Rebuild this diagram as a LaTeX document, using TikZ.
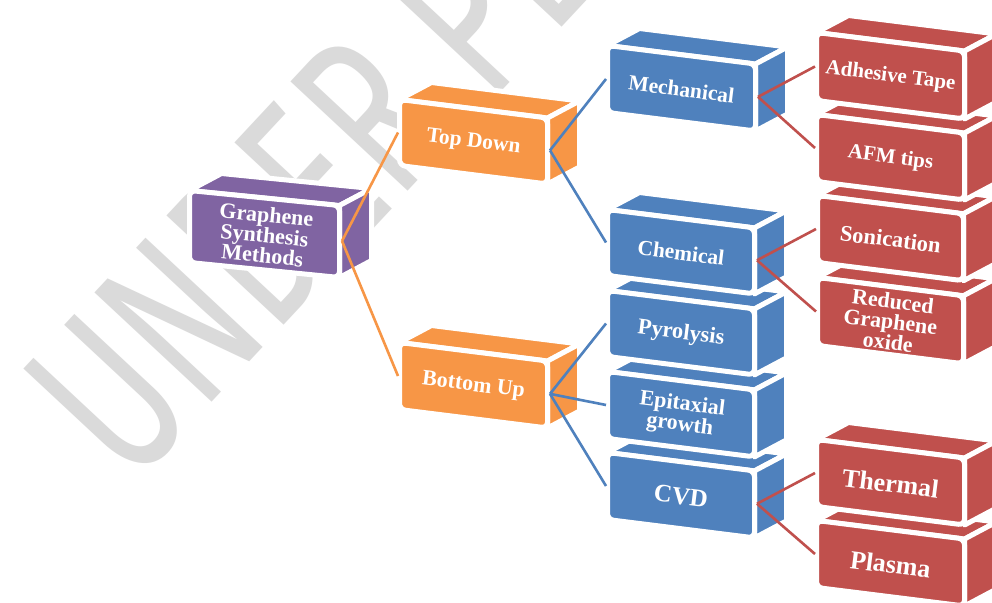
\documentclass[tikz,border=0pt]{standalone}
\usepackage{fontspec}
\setmainfont{Liberation Serif}
\IfFontExistsTF{Fira Sans Book}{\newfontfamily\wmfont{Fira Sans Book}}{\newfontfamily\wmfont{Fira Sans}}
\usetikzlibrary{calc}

\definecolor{cpurple}{HTML}{8064A2}
\definecolor{corange}{HTML}{F79646}
\definecolor{cblue}{HTML}{4F81BD}
\definecolor{cred}{HTML}{C0504D}
\definecolor{wmgray}{HTML}{DADADA}

\tikzset{
  face/.style={draw=white, line width=5pt, line join=round},
  frontface/.style={draw=white, line width=5pt, rounded corners=6pt},
  lbl/.style={text=white, align=center, inner sep=0pt},
  conn/.style={line width=2.6pt},
}

\def\cslant{0.125}
% #1 name, #2 x0, #3 y0, #4 w, #5 h, #6 colour, #7 text, #8 font size
\newcommand\drawcube[8]{%
  \pgfmathsetmacro\cxa{#2-2.5}%
  \pgfmathsetmacro\cya{#3-2.5}%
  \pgfmathsetmacro\cxb{#2+#4+2.5}%
  \pgfmathsetmacro\cyb{#3-2.5+\cslant*(#4+5)}%
  \pgfmathsetmacro\cyc{\cyb+#5+5}%
  \pgfmathsetmacro\cyd{#3+#5+2.5}%
  \pgfmathsetmacro\crot{-atan(\cslant)}%
  \filldraw[face, fill=#6] (\cxa,\cya) -- (\cxb,\cyb) -- ({\cxb+32},{\cyb-17}) -- ({\cxa+32},{\cya-17}) -- cycle;
  \filldraw[face, fill=#6] (\cxb,\cyb) -- ({\cxb+32},{\cyb-17}) -- ({\cxb+32},{\cyc-17}) -- (\cxb,\cyc) -- cycle;
  \filldraw[frontface, fill=#6] (\cxa,\cya) -- (\cxb,\cyb) -- (\cxb,\cyc) -- (\cxa,\cyd) -- cycle;
  \node[lbl, rotate=\crot, font=\bfseries\fontsize{#8}{20.5}\selectfont] (#1) at ({(\cxa+\cxb)/2},{(\cya+\cyc)/2+1}) {#7};
  \coordinate (#1-in) at ({#2-4},{#3+#5/2});
  \coordinate (#1-out) at ({#2+#4+5},{#3+\cslant*#4+#5/2});
}

\begin{document}
\begin{tikzpicture}[x=1pt, y=-1pt]
\useasboundingbox (0,0) rectangle (992,602);
\clip (0,0) rectangle (992,602);
\fill[white] (0,0) rectangle (992,602);

% watermark
\begin{scope}[shift={(131,489)}, rotate=47, yscale=1.5]
  \node[transform shape, anchor=base west, inner sep=0pt, text=wmgray,
        font=\wmfont\fontsize{155}{155}\selectfont] (wm) at (0,0) {UNDER PEER REVIEW};
\end{scope}

% boxes, lower ones first
\drawcube{pl}{819}{523}{143}{62}{cred}{Plasma}{26}
\drawcube{th}{819}{442}{143}{62}{cred}{Thermal}{26}
\drawcube{rgo}{820}{280}{141}{63}{cred}{Reduced\\Graphene\\oxide}{22}
\drawcube{son}{820}{198}{141}{62}{cred}{Sonication}{22.5}
\drawcube{afm}{819}{117}{143}{62}{cred}{AFM tips}{21}
\drawcube{adh}{819}{35}{143}{63}{cred}{Adhesive Tape}{21}

\drawcube{cvd}{610}{455}{142}{62}{cblue}{CVD}{25}
\drawcube{epi}{610}{374}{142}{62}{cblue}{Epitaxial\\growth}{22}
\drawcube{pyro}{610}{293}{142}{61}{cblue}{Pyrolysis}{22.5}
\drawcube{chem}{610}{212}{142}{61}{cblue}{Chemical}{21.5}
\drawcube{mech}{610}{48}{143}{62}{cblue}{Mechanical}{21.5}

\drawcube{bu}{402}{345}{143}{62}{corange}{Bottom Up}{22}
\drawcube{td}{402}{102}{143}{61}{corange}{Top Down}{21.5}

\def\cslant{0.1}
\drawcube{gsm}{192}{193}{145}{67}{cpurple}{Graphene\\Synthesis\\Methods}{22}

% connectors
\draw[conn, corange] (gsm-out) -- (td-in);
\draw[conn, corange] (gsm-out) -- (bu-in);
\draw[conn, cblue] (td-out) -- (mech-in);
\draw[conn, cblue] (td-out) -- (chem-in);
\draw[conn, cblue] (bu-out) -- (pyro-in);
\draw[conn, cblue] (bu-out) -- (epi-in);
\draw[conn, cblue] (bu-out) -- (cvd-in);
\draw[conn, cred] (mech-out) -- (adh-in);
\draw[conn, cred] (mech-out) -- (afm-in);
\draw[conn, cred] (chem-out) -- (son-in);
\draw[conn, cred] (chem-out) -- (rgo-in);
\draw[conn, cred] (cvd-out) -- (th-in);
\draw[conn, cred] (cvd-out) -- (pl-in);
\end{tikzpicture}
\end{document}
